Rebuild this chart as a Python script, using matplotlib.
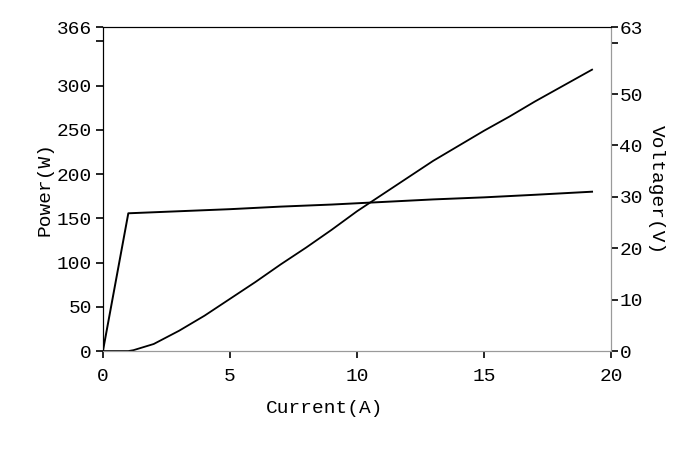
import matplotlib
matplotlib.use('Agg')
import matplotlib.pyplot as plt

# data
current_p = [0, 1.0, 1.2, 2, 3, 4, 5, 6, 7, 8, 9, 10, 11, 12, 13, 14, 15, 16, 17, 18, 19.25]
power = [0, 0, 1, 8, 23, 40, 59, 78, 98, 117, 137, 158, 177, 196, 215, 232, 249, 265, 282, 298, 318]

current_v = [0, 1.0, 3, 5, 7, 9, 11, 13, 15, 17, 19.25]
voltage = [0, 26.8, 27.2, 27.6, 28.1, 28.5, 29.0, 29.5, 29.9, 30.4, 31.0]

x_ticks = [0, 5, 10, 15, 20]
p_ticks = [0, 50, 100, 150, 200, 250, 300, 350, 366]
p_labels = ['0', '50', '100', '150', '200', '250', '300', '', '366']
v_ticks = [0, 10, 20, 30, 40, 50, 60, 63]
v_labels = ['0', '10', '20', '30', '40', '50', '', '63']

plt.rcParams['font.family'] = ['Liberation Mono', 'DejaVu Sans Mono']
plt.rcParams['font.size'] = 14

fig = plt.figure(figsize=(7, 4.53), dpi=100)
ax = fig.add_axes([0.147, 0.225, 0.726, 0.715])
ax2 = ax.twinx()

ax.plot(current_p, power, color='black', lw=1.3)
ax2.plot(current_v, voltage, color='black', lw=1.4)

ax.set_xlim(0, 20)
ax.set_ylim(0, 366)
ax2.set_ylim(0, 63)

ax.set_xticks(x_ticks)
ax.set_yticks(p_ticks)
ax.set_yticklabels(p_labels)
ax2.set_yticks(v_ticks)
ax2.set_yticklabels(v_labels)

ax.tick_params(axis='both', direction='out', length=5, width=1.2, colors='black', pad=3)
ax.tick_params(axis='x', pad=7)
ax2.tick_params(axis='y', direction='out', length=5, width=1.2, pad=1)

for a in (ax, ax2):
    a.spines['left'].set_color('black')
    a.spines['top'].set_color('black')
    a.spines['bottom'].set_color('#9a9a9a')
    a.spines['right'].set_color('#9a9a9a')

ax.set_xlabel('Current(A)')
ax.xaxis.set_label_coords(0.437, -0.15)
ax.set_ylabel('Power(W)', labelpad=2)
ax2.set_ylabel('Voltager(V)', rotation=-90, labelpad=16)

fig.savefig('out.png', dpi=100)
